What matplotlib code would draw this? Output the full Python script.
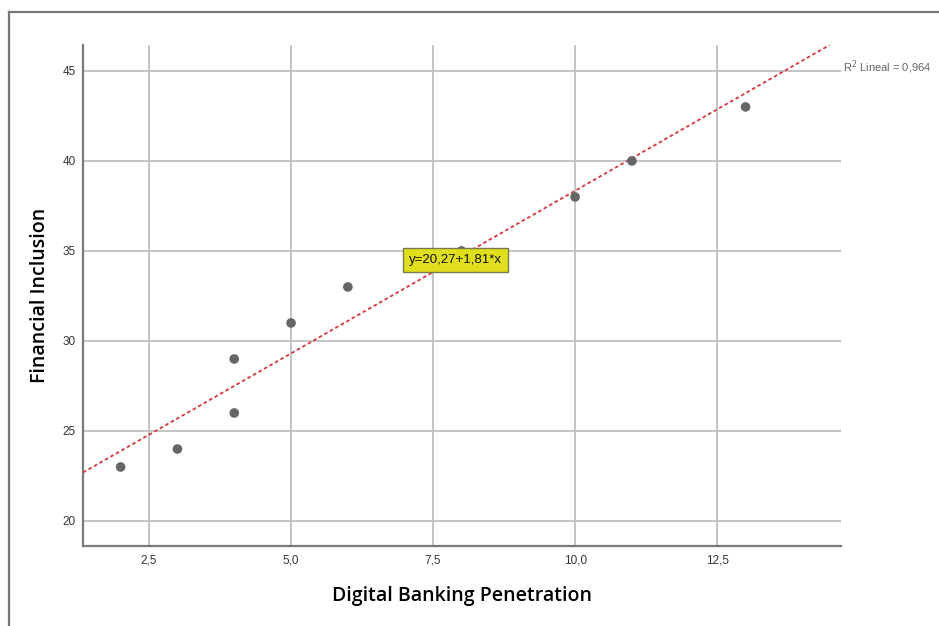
import matplotlib.pyplot as plt
from matplotlib.lines import Line2D
import numpy as np

# Country observations: digital banking penetration vs. financial inclusion
penetration = [2, 3, 4, 4, 5, 6, 8, 10, 11, 13]
inclusion = [23, 24, 26, 29, 31, 33, 35, 38, 40, 43]
x_ticks = [2.5, 5.0, 7.5, 10.0, 12.5]
y_ticks = [20, 25, 30, 35, 40, 45]

plt.rcParams['font.family'] = ['Liberation Sans', 'DejaVu Sans']


def fmt_comma(v, decimals):
    return f"{v:.{decimals}f}".replace('.', ',')


def plot_scatter(x: np.ndarray, y: np.ndarray):
    fig = plt.figure(figsize=(9.39, 6.26), dpi=100)
    ax = fig.add_axes([83 / 939, 80 / 626, 758 / 939, 501 / 626])

    xlim = (1.338, 14.68)
    ylim = (18.61, 46.44)
    ax.set_xlim(*xlim)
    ax.set_ylim(*ylim)

    ax.set_xticks(x_ticks)
    ax.set_xticklabels([fmt_comma(t, 1) for t in x_ticks])
    ax.set_yticks(y_ticks)
    ax.set_yticklabels([str(t) for t in y_ticks])
    ax.tick_params(axis='x', length=0, labelsize=8.5, colors='#333333', pad=6)
    ax.tick_params(axis='y', length=0, labelsize=8.5, colors='#333333', pad=5)
    ax.grid(True, color='#c4c4c4', linewidth=1.4)
    ax.set_axisbelow(True)

    for side in ('top', 'right'):
        ax.spines[side].set_visible(False)
    for side in ('left', 'bottom'):
        ax.spines[side].set_color('#7a7a7a')
        ax.spines[side].set_linewidth(1.6)

    # least squares fit
    slope, intercept = np.polyfit(x, y, 1)
    pred = intercept + slope * x
    r2 = 1 - np.sum((y - pred) ** 2) / np.sum((y - y.mean()) ** 2)

    x_end = (ylim[1] - intercept) / slope
    fx = np.array([xlim[0], x_end])
    ax.plot(fx, intercept + slope * fx, color='#d9363e', linestyle=(0, (2, 1.5)),
            linewidth=1.3, zorder=3)

    ax.scatter(x, y, s=48, color='#666666', edgecolors='none', zorder=4)

    ax.text(7.9, 34.5, f"y={fmt_comma(intercept, 2)}+{fmt_comma(slope, 2)}*x",
            ha='center', va='center', fontsize=9.5, color='#111111', zorder=5,
            bbox=dict(boxstyle='square,pad=0.45', facecolor='#e1df1c',
                      edgecolor='#7a7a50', linewidth=1))

    ax.text(1.0025, 0.955, f"R$^2$ Lineal = {fmt_comma(r2, 3)}", transform=ax.transAxes,
            ha='left', va='center', fontsize=8, color='#666666')

    ax.set_xlabel('Digital Banking Penetration', fontsize=14, fontfamily='Open Sans',
                  fontweight='semibold', labelpad=14)
    ax.set_ylabel('Financial Inclusion', fontsize=14, fontfamily='Open Sans',
                  fontweight='semibold', labelpad=9)

    # outer frame (top and left edges)
    fig.add_artist(Line2D([9 / 939, 1], [1 - 12 / 626, 1 - 12 / 626],
                          transform=fig.transFigure, color='#777777', linewidth=1.6))
    fig.add_artist(Line2D([9 / 939, 9 / 939], [0, 1 - 12 / 626],
                          transform=fig.transFigure, color='#777777', linewidth=1.6))

    fig.savefig('out.png', dpi=100)


if __name__ == "__main__":
    plot_scatter(np.array(penetration, dtype=float), np.array(inclusion, dtype=float))
